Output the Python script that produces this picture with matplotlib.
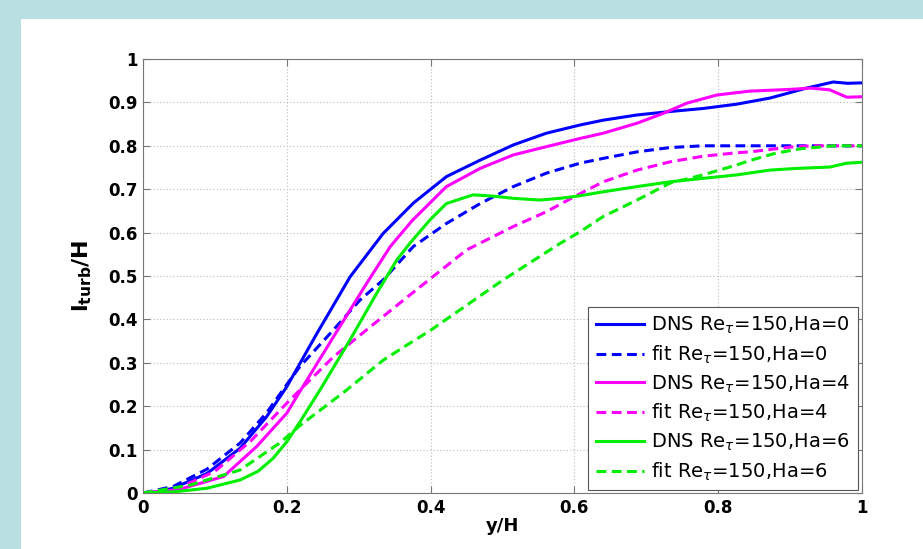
import numpy as np
import matplotlib.pyplot as plt
from matplotlib.patches import Rectangle

# y/H positions and l_turb/H values
x_dns0 = [0, 0.02, 0.042, 0.089, 0.135, 0.172, 0.2, 0.242, 0.288, 0.334, 0.376, 0.422, 0.469, 0.515,
          0.561, 0.608, 0.64, 0.687, 0.733, 0.779, 0.826, 0.872, 0.923, 0.96, 0.98, 1.0]
dns0 = [0, 0.003, 0.011, 0.045, 0.103, 0.176, 0.245, 0.368, 0.498, 0.598, 0.668, 0.729, 0.767, 0.802,
        0.829, 0.848, 0.859, 0.871, 0.879, 0.886, 0.896, 0.91, 0.933, 0.947, 0.944, 0.945]

x_fit0 = [0, 0.042, 0.089, 0.135, 0.172, 0.2, 0.218, 0.265, 0.302, 0.334, 0.376, 0.422, 0.469, 0.515,
          0.561, 0.608, 0.64, 0.687, 0.733, 0.779, 0.85, 1.0]
fit0 = [0, 0.015, 0.055, 0.115, 0.185, 0.25, 0.291, 0.376, 0.445, 0.491, 0.568, 0.621, 0.667, 0.706,
        0.737, 0.76, 0.771, 0.786, 0.796, 0.8, 0.8, 0.8]

x_dns4 = [0, 0.05, 0.112, 0.158, 0.2, 0.216, 0.265, 0.311, 0.344, 0.374, 0.422, 0.469, 0.515, 0.561,
          0.608, 0.64, 0.687, 0.724, 0.756, 0.798, 0.844, 0.9, 0.928, 0.955, 0.979, 1.0]
dns4 = [0, 0.008, 0.038, 0.107, 0.184, 0.228, 0.36, 0.483, 0.568, 0.627, 0.706, 0.748, 0.779, 0.798,
        0.817, 0.829, 0.852, 0.875, 0.898, 0.917, 0.926, 0.93, 0.933, 0.929, 0.912, 0.913]

x_fit4 = [0, 0.05, 0.1, 0.15, 0.2, 0.223, 0.265, 0.311, 0.371, 0.45, 0.515, 0.561, 0.6, 0.64,
          0.687, 0.733, 0.779, 0.826, 0.844, 0.9, 0.93, 1.0]
fit4 = [0, 0.012, 0.05, 0.12, 0.207, 0.245, 0.314, 0.376, 0.456, 0.56, 0.614, 0.648, 0.683, 0.717,
        0.744, 0.763, 0.776, 0.784, 0.786, 0.797, 0.8, 0.8]

x_dns6 = [0, 0.045, 0.089, 0.135, 0.16, 0.181, 0.2, 0.218, 0.246, 0.288, 0.325, 0.353, 0.371, 0.399,
          0.422, 0.459, 0.487, 0.515, 0.552, 0.58, 0.608, 0.64, 0.687, 0.733, 0.779, 0.826, 0.872,
          0.91, 0.955, 0.979, 1.0]
dns6 = [0, 0.003, 0.011, 0.03, 0.05, 0.08, 0.118, 0.163, 0.237, 0.353, 0.46, 0.537, 0.575, 0.629,
        0.667, 0.687, 0.684, 0.679, 0.675, 0.679, 0.685, 0.694, 0.706, 0.717, 0.725, 0.733, 0.744,
        0.748, 0.751, 0.76, 0.762]

x_fit6 = [0, 0.065, 0.135, 0.19, 0.218, 0.283, 0.334, 0.371, 0.4, 0.5, 0.58, 0.608, 0.64, 0.687,
          0.733, 0.779, 0.826, 0.844, 0.88, 0.914, 0.96, 1.0]
fit6 = [0, 0.018, 0.053, 0.115, 0.155, 0.237, 0.306, 0.345, 0.375, 0.49, 0.575, 0.602, 0.637, 0.675,
        0.714, 0.733, 0.756, 0.766, 0.783, 0.793, 0.8, 0.8]

series = [
    (x_dns0, dns0, "#0000ff", "-", "DNS Re$_\\tau$=150,Ha=0"),
    (x_fit0, fit0, "#0000ff", "--", "fit Re$_\\tau$=150,Ha=0"),
    (x_dns4, dns4, "#ff00ff", "-", "DNS Re$_\\tau$=150,Ha=4"),
    (x_fit4, fit4, "#ff00ff", "--", "fit Re$_\\tau$=150,Ha=4"),
    (x_dns6, dns6, "#00ee00", "-", "DNS Re$_\\tau$=150,Ha=6"),
    (x_fit6, fit6, "#00ee00", "--", "fit Re$_\\tau$=150,Ha=6"),
]

plt.rcParams["font.family"] = ["DejaVu Sans"]
plt.rcParams["mathtext.fontset"] = "dejavusans"

fig = plt.figure(figsize=(9.23, 5.49), dpi=100, facecolor="#b9dfe3")
fig.patches.append(Rectangle((21 / 923, 0), 1, (549 - 19) / 549, transform=fig.transFigure,
                             facecolor="white", edgecolor="none", zorder=-5))
ax = fig.add_axes([143 / 923, 1 - 493 / 549, 719 / 923, 434 / 549])
ax.set_zorder(2)

for xs, ys, c, ls, lab in series:
    if ls == "--":
        ax.plot(xs, ys, color=c, linewidth=2.2, label=lab, dashes=(3.2, 1.8))
    else:
        ax.plot(xs, ys, color=c, linewidth=2.2, label=lab)

ax.set_xlim(0, 1)
ax.set_ylim(0, 1)
ax.set_xticks(np.arange(0, 1.01, 0.2))
ax.set_xticklabels(["0", "0.2", "0.4", "0.6", "0.8", "1"])
ax.set_yticks(np.arange(0, 1.01, 0.1))
ax.set_yticklabels(["0", "0.1", "0.2", "0.3", "0.4", "0.5", "0.6", "0.7", "0.8", "0.9", "1"])
ax.grid(True, linestyle=(0, (1, 2)), color="#bbbbbb", linewidth=0.8)
ax.tick_params(direction="in", top=True, right=True, length=5, color="#777777",
               labelsize=12, pad=4)
for t in ax.get_xticklabels() + ax.get_yticklabels():
    t.set_fontweight("bold")
for s in ax.spines.values():
    s.set_color("#777777")

ax.set_xlabel("y/H", fontsize=13, fontweight="bold", labelpad=0)
ax.set_ylabel("l$_{\\mathbf{turb}}$/H", fontsize=16, fontweight="bold", labelpad=10)

leg = ax.legend(loc="lower right", bbox_to_anchor=(0.994, 0.006), borderaxespad=0,
                fontsize=14, fancybox=False, edgecolor="#555555", framealpha=1,
                handlelength=2.5, labelspacing=0.38, borderpad=0.4, handletextpad=0.35)
leg.get_frame().set_linewidth(0.8)

fig.savefig("out.png", dpi=100, facecolor=fig.get_facecolor())
